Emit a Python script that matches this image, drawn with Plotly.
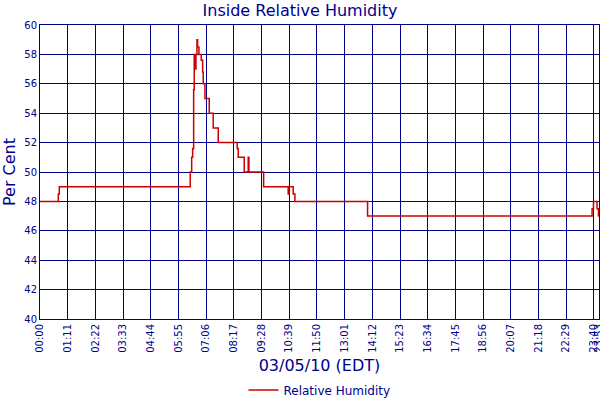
import plotly.graph_objects as go

DAY = "2010-03-05"

# step change times (HH:MM:SS) and humidity values (%)
times = [
    "00:00:00", "00:47:00", "00:49:30", "06:25:10", "06:28:50", "06:31:20",
    "06:33:55", "06:35:25", "06:38:00", "06:39:50", "06:42:25", "06:44:00",
    "06:47:30", "06:53:25", "06:57:00", "06:58:30", "07:02:55", "07:13:55",
    "07:24:05", "07:37:00", "08:25:35", "08:28:10", "08:43:35", "08:53:50",
    "08:55:35", "09:33:20", "10:36:20", "10:38:05", "10:49:10", "10:53:30",
    "13:59:50", "23:35:25", "23:39:00", "23:48:10", "23:51:50", "23:53:00",
]
humidity = [
    48, 48.5, 49, 50, 51, 51.6,
    55.6, 58, 57, 58, 59, 58.5,
    58, 57.6, 56.8, 56, 55, 54,
    53, 52, 51.6, 51, 50, 51,
    50, 49, 48.5, 49, 48.5, 48,
    47, 47.5, 48, 47.5, 47, 47,
]

tick_labels = ["00:00", "01:11", "02:22", "03:33", "04:44", "05:55", "07:06",
               "08:17", "09:28", "10:39", "11:50", "13:01", "14:12", "15:23",
               "16:34", "17:45", "18:56", "20:07", "21:18", "22:29", "23:40",
               "23:53"]
y_ticks = [40, 42, 44, 46, 48, 50, 52, 54, 56, 58, 60]

x = [f"{DAY} {t}" for t in times]
tickvals = [f"{DAY} {t}:00" for t in tick_labels]

NAVY = "#00008B"
FONT = "DejaVu Sans"

fig = go.Figure()
fig.add_trace(go.Scatter(
    x=x, y=humidity, mode="lines", line_shape="hv",
    line=dict(color="#CC0000", width=1.5),
    name="Relative Humidity",
))

fig.update_layout(
    width=600, height=400,
    margin=dict(l=40, r=1, t=25, b=81, autoexpand=False),
    paper_bgcolor="white", plot_bgcolor="white",
    font=dict(family=FONT, color=NAVY),
    title=dict(text="Inside Relative Humidity", x=0.5, xanchor="center",
               yref="container", y=0.975, yanchor="middle",
               font=dict(size=16, color=NAVY, family=FONT)),
    showlegend=True,
    legend=dict(orientation="h", x=0.5, xanchor="center",
                yref="container", y=0.025, yanchor="middle",
                font=dict(size=12, color=NAVY, family=FONT), bgcolor="rgba(0,0,0,0)"),
    xaxis=dict(
        type="date", automargin=False, ticklabeloverflow="allow",
        range=[f"{DAY} 00:00:00", f"{DAY} 23:53:10"],
        tickmode="array", tickvals=tickvals, ticktext=tick_labels,
        tickangle=-90, tickfont=dict(size=10, color=NAVY, family=FONT),
        showgrid=True, gridcolor=NAVY, gridwidth=1,
        showline=True, linecolor=NAVY, linewidth=1, mirror=True,
        ticks="", zeroline=False,
        title=dict(text="03/05/10 (EDT)", font=dict(size=16, color=NAVY, family=FONT),
                   standoff=16),
    ),
    yaxis=dict(
        range=[40, 60], tickmode="array", tickvals=y_ticks, automargin=False,
        tickfont=dict(size=10, color=NAVY, family=FONT),
        showgrid=True, gridcolor=NAVY, gridwidth=1,
        showline=True, linecolor=NAVY, linewidth=1, mirror=True,
        ticks="", zeroline=False,
        title=dict(text="Per Cent", font=dict(size=16, color=NAVY, family=FONT),
                   standoff=6),
    ),
)

fig.write_html(
    "out.html",
    config={"displayModeBar": False},
    post_script="document.body.style.margin='0';document.body.style.overflow='hidden';",
)
